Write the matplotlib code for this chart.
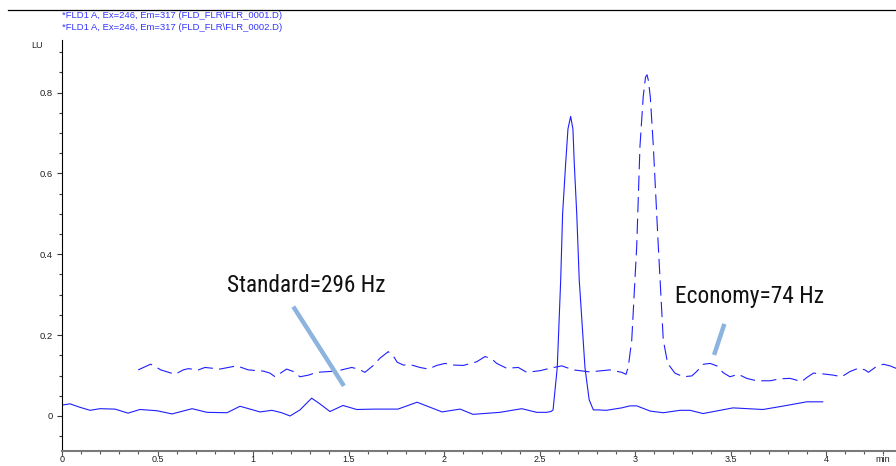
import matplotlib
matplotlib.use("Agg")
import matplotlib.pyplot as plt
from matplotlib.lines import Line2D
from matplotlib.ticker import MultipleLocator, FuncFormatter
from matplotlib import font_manager

# ---- data (time in min, signal in LU) ----
std_t = [0.000, 0.042, 0.090, 0.147, 0.199, 0.277, 0.346, 0.408, 0.497, 0.576,
         0.681, 0.759, 0.864, 0.932, 1.037, 1.099, 1.150, 1.194, 1.246, 1.307,
         1.350, 1.403, 1.471, 1.543, 1.639, 1.759, 1.859, 1.990, 2.084, 2.152,
         2.293, 2.407, 2.485, 2.537, 2.560, 2.571, 2.593, 2.611, 2.621, 2.637,
         2.649, 2.663, 2.675, 2.682, 2.695, 2.708, 2.738, 2.760, 2.782, 2.806,
         2.850, 2.930, 2.974, 3.009, 3.080, 3.148, 3.236, 3.288, 3.356, 3.513,
         3.670, 3.794, 3.899, 3.983]
std_y = [0.027, 0.030, 0.022, 0.014, 0.018, 0.017, 0.007, 0.016, 0.013, 0.005,
         0.018, 0.009, 0.008, 0.024, 0.010, 0.014, 0.008, 0.000, 0.015, 0.044,
         0.030, 0.011, 0.026, 0.016, 0.017, 0.017, 0.034, 0.010, 0.017, 0.004,
         0.009, 0.018, 0.009, 0.009, 0.011, 0.015, 0.120, 0.337, 0.500, 0.625,
         0.710, 0.741, 0.710, 0.625, 0.500, 0.337, 0.120, 0.040, 0.015, 0.015,
         0.014, 0.020, 0.025, 0.025, 0.012, 0.008, 0.014, 0.014, 0.006, 0.020,
         0.016, 0.026, 0.035, 0.035]

eco_t = [0.399, 0.464, 0.482, 0.517, 0.592, 0.635, 0.661, 0.714, 0.749, 0.827,
         0.915, 0.975, 1.054, 1.089, 1.115, 1.176, 1.211, 1.246, 1.290, 1.334,
         1.403, 1.455, 1.517, 1.551, 1.586, 1.630, 1.665, 1.708, 1.731, 1.755,
         1.787, 1.831, 1.874, 1.918, 1.962, 2.005, 2.049, 2.101, 2.171, 2.215,
         2.250, 2.276, 2.328, 2.389, 2.433, 2.503, 2.555, 2.616, 2.677, 2.764,
         2.869, 2.930, 2.953, 2.965, 2.983, 3.009, 3.026, 3.043, 3.055, 3.063,
         3.070, 3.080, 3.096, 3.122, 3.148, 3.171, 3.209, 3.253, 3.297, 3.323,
         3.358, 3.393, 3.428, 3.462, 3.497, 3.541, 3.585, 3.637, 3.707, 3.759,
         3.812, 3.873, 3.899, 3.934, 3.986, 4.038, 4.082, 4.126, 4.169, 4.204,
         4.222, 4.257, 4.300, 4.335, 4.366, 4.400]
eco_y = [0.114, 0.128, 0.124, 0.114, 0.103, 0.114, 0.117, 0.114, 0.120, 0.116,
         0.124, 0.114, 0.111, 0.106, 0.097, 0.116, 0.110, 0.097, 0.101, 0.108,
         0.110, 0.113, 0.120, 0.116, 0.108, 0.125, 0.143, 0.159, 0.151, 0.133,
         0.126, 0.126, 0.120, 0.116, 0.125, 0.130, 0.126, 0.125, 0.134, 0.147,
         0.141, 0.130, 0.118, 0.120, 0.108, 0.112, 0.118, 0.124, 0.114, 0.109,
         0.114, 0.108, 0.103, 0.122, 0.188, 0.420, 0.667, 0.790, 0.838, 0.844,
         0.830, 0.790, 0.667, 0.420, 0.188, 0.130, 0.106, 0.097, 0.099, 0.110,
         0.128, 0.130, 0.124, 0.107, 0.097, 0.103, 0.093, 0.087, 0.087, 0.092,
         0.093, 0.085, 0.095, 0.106, 0.104, 0.101, 0.097, 0.110, 0.118, 0.114,
         0.108, 0.120, 0.128, 0.124, 0.118, 0.115]

legend_lines = [r"*FLD1 A, Ex=246, Em=317 (FLD_FLR\FLR_0001.D)",
                r"*FLD1 A, Ex=246, Em=317 (FLD_FLR\FLR_0002.D)"]
label_std = "Standard=296 Hz"
label_eco = "Economy=74 Hz"

# ---- fonts ----
installed = {f.name for f in font_manager.fontManager.ttflist}
narrow = 'Liberation Sans'
for cand in ['Liberation Sans Narrow', 'Arial Narrow', 'Roboto Condensed',
             'Open Sans Condensed', 'Noto Sans Condensed', 'DejaVu Sans Condensed']:
    if cand in installed:
        narrow = cand
        break

plt.rcParams['font.family'] = ['Liberation Sans', 'DejaVu Sans']
plt.rcParams['lines.scale_dashes'] = False
W, H = 896, 466
PX_PER_MIN = 191.0
XMAX = 4.45
fig = plt.figure(figsize=(W / 100, H / 100), dpi=100)
ax = fig.add_axes([62 / W, (H - 451.3) / H, XMAX * PX_PER_MIN / W, (451.3 - 40) / H])
ax.set_xlim(0, XMAX)
ax.set_ylim(-0.0874, 0.930)

trace_color = '#1f1fff'
ax.plot(std_t, std_y, color=trace_color, lw=0.8, solid_joinstyle='round')
ax.plot(eco_t, eco_y, color=trace_color, lw=0.8, linestyle=(0, (11, 4.5)))

# spines
for s in ('top', 'right'):
    ax.spines[s].set_visible(False)
ax.spines['left'].set_color('black')
ax.spines['left'].set_linewidth(0.8)
ax.spines['bottom'].set_color('#7a7a7a')
ax.spines['bottom'].set_linewidth(1.5)

# ticks
ax.xaxis.set_major_locator(MultipleLocator(0.5))
ax.xaxis.set_minor_locator(MultipleLocator(0.1))
ax.yaxis.set_major_locator(MultipleLocator(0.2))
ax.yaxis.set_minor_locator(MultipleLocator(0.05))
fmt = FuncFormatter(lambda v, p: ('%g' % round(v, 3)))
ax.xaxis.set_major_formatter(fmt)
ax.yaxis.set_major_formatter(fmt)
ax.tick_params(axis='x', which='major', length=3.3, width=0.8, color='#555555',
               labelsize=6.5, pad=-0.6, labelcolor='#222222')
ax.tick_params(axis='x', which='minor', length=2, width=0.8, color='#555555')
ax.tick_params(axis='y', which='major', length=3.5, width=0.8, color='#333333',
               labelsize=6.8, pad=3, labelcolor='#222222')
ax.tick_params(axis='y', which='minor', length=2, width=0.8, color='#333333')

# unit labels
fig.text(31 / W, 1 - 45 / H, "LU", fontsize=6.5, color='#222222', va='center', ha='left')
fig.text(875 / W, 1 - 460 / H, "min", fontsize=6.5, color='#222222', va='center', ha='left')

# legend texts
fig.text(62 / W, 1 - 16 / H, legend_lines[0], fontsize=6.8, color='#3535ff', va='center', ha='left')
fig.text(62 / W, 1 - 28 / H, legend_lines[1], fontsize=6.8, color='#3535ff', va='center', ha='left')

# top rule
fig.add_artist(Line2D([8 / W, 1.0], [1 - 10 / H, 1 - 10 / H], color='black', lw=0.9,
                      transform=fig.transFigure))

# annotations
pointer = '#8db3df'
ax.plot([1.211, 1.476], [0.2705, 0.0743], color=pointer, lw=3.2, solid_capstyle='butt')
ax.plot([3.468, 3.414], [0.2277, 0.151], color=pointer, lw=3.2, solid_capstyle='butt')
t1 = ax.text(0.862, 0.3077, label_std, fontsize=17, family=[narrow, 'DejaVu Sans'],
             color='#111111', va='baseline')
t2 = ax.text(3.209, 0.279, label_eco, fontsize=17, family=[narrow, 'DejaVu Sans'],
             color='#111111', va='baseline')

# fit annotation widths to the reference (about 158 px and 149 px)
renderer = fig.canvas.get_renderer()
for t, target in ((t1, 158.0), (t2, 149.0)):
    w = t.get_window_extent(renderer).width
    t.set_fontsize(min(17.5, 17 * target / w))

fig.savefig('out.png', dpi=100)
